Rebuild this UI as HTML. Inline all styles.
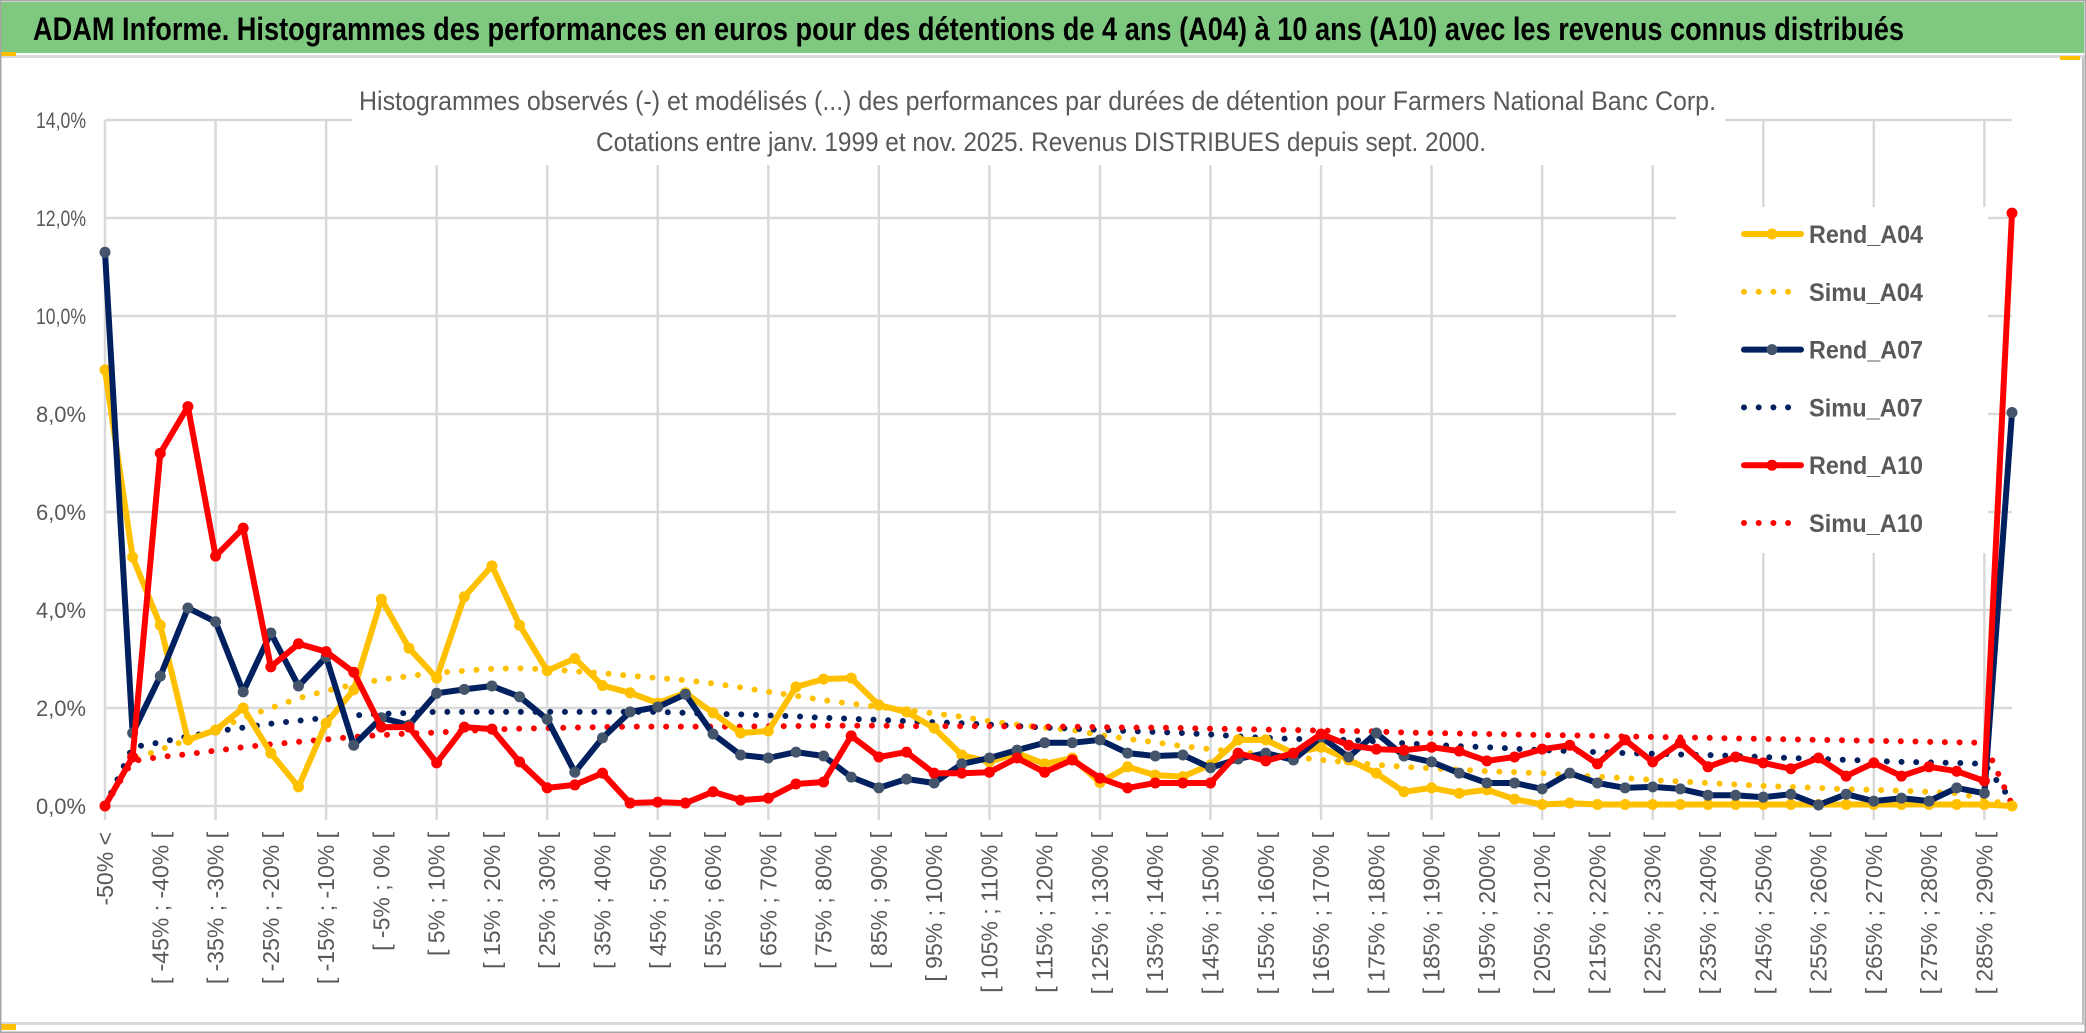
<!DOCTYPE html>
<html><head><meta charset="utf-8"><style>
html,body{margin:0;padding:0;background:#fff;}
svg{display:block;}
text{font-family:"Liberation Sans",sans-serif;}
</style></head><body>
<svg id="chart" width="2086" height="1033" viewBox="0 0 2086 1033" xmlns="http://www.w3.org/2000/svg">
<rect x="0" y="0" width="2086" height="1033" fill="#fff"/>
<rect x="1" y="2" width="2083" height="51" fill="#7ec97f"/>
<text x="33" y="40" font-size="32" font-weight="bold" fill="#000" textLength="1871" lengthAdjust="spacingAndGlyphs">ADAM Informe. Histogrammes des performances en euros pour des détentions de 4 ans (A04) à 10 ans (A10) avec les revenus connus distribués</text>
<rect x="0" y="55" width="2086" height="3" fill="#d9d9d9"/>
<rect x="0" y="52" width="16" height="4" fill="#ffc000"/>
<rect x="2060" y="56" width="20" height="4" fill="#ffc000"/>
<rect x="0" y="1022" width="2086" height="3" fill="#d9d9d9"/>
<rect x="0" y="1024" width="16" height="6" fill="#ffc000"/>
<rect x="0.5" y="0.5" width="2085" height="1032" fill="none" stroke="#a6a6a6" stroke-width="2"/>
<rect x="2082" y="58" width="2" height="966" fill="#bfbfbf"/>
<g id="grid"></g>
<rect x="352" y="78" width="1373" height="87" fill="#fff"/>
<text x="359" y="110" font-size="27" fill="#595959" textLength="1357" lengthAdjust="spacingAndGlyphs">Histogrammes observés (-) et modélisés (...) des performances par durées de détention pour Farmers National Banc Corp.</text>
<text x="596" y="151" font-size="27" fill="#595959" textLength="890" lengthAdjust="spacingAndGlyphs">Cotations entre janv. 1999 et nov. 2025. Revenus DISTRIBUES depuis sept. 2000.</text>
<g id="yaxis"></g>
<g id="xaxis"></g>
<rect x="1676" y="207" width="312" height="346" fill="#fff"/>
<g id="series"></g>
<g id="legend"></g>
</svg>
<script>
const yTicks = [0, 2, 4, 6, 8, 10, 12, 14];
const yTickLabels = ["0,0%","2,0%","4,0%","6,0%","8,0%","10,0%","12,0%","14,0%"];
const rendA04 = [8.9,5.08,3.69,1.35,1.55,2.0,1.08,0.39,1.69,2.37,4.22,3.22,2.61,4.27,4.9,3.69,2.76,3.01,2.46,2.31,2.1,2.31,1.9,1.49,1.53,2.43,2.59,2.61,2.06,1.92,1.59,1.04,0.9,1.08,0.86,0.98,0.48,0.8,0.63,0.6,0.84,1.35,1.35,1.08,1.2,0.94,0.67,0.29,0.37,0.26,0.33,0.14,0.03,0.06,0.03,0.03,0.03,0.03,0.03,0.03,0.03,0.03,0.03,0.03,0.03,0.03,0.03,0.03,0.03,0.0];
const simuA04 = [0,0.95,1.15,1.35,1.55,1.8,2.0,2.2,2.35,2.48,2.58,2.65,2.72,2.76,2.8,2.81,2.79,2.75,2.71,2.66,2.61,2.57,2.5,2.42,2.33,2.25,2.16,2.09,2.02,1.96,1.89,1.82,1.73,1.66,1.6,1.55,1.45,1.37,1.3,1.22,1.16,1.1,1.05,1.0,0.94,0.89,0.84,0.8,0.77,0.74,0.71,0.69,0.67,0.63,0.6,0.57,0.53,0.5,0.47,0.44,0.41,0.39,0.37,0.34,0.33,0.31,0.29,0.26,0.15,0.0];
const rendA07 = [11.3,1.49,2.65,4.04,3.76,2.33,3.53,2.45,3.04,1.24,1.8,1.65,2.3,2.38,2.45,2.23,1.77,0.69,1.39,1.92,2.02,2.28,1.47,1.04,0.98,1.1,1.02,0.59,0.37,0.55,0.47,0.86,0.98,1.14,1.29,1.29,1.35,1.08,1.02,1.04,0.78,0.96,1.08,0.94,1.41,1.0,1.49,1.02,0.9,0.67,0.47,0.47,0.35,0.67,0.47,0.37,0.39,0.35,0.22,0.22,0.18,0.24,0.02,0.24,0.1,0.16,0.1,0.37,0.26,8.03];
const simuA07 = [0,1.2,1.3,1.42,1.52,1.6,1.68,1.74,1.8,1.85,1.88,1.9,1.92,1.92,1.92,1.92,1.92,1.92,1.92,1.92,1.92,1.9,1.88,1.87,1.85,1.83,1.8,1.78,1.76,1.73,1.71,1.69,1.66,1.63,1.6,1.58,1.55,1.53,1.51,1.49,1.46,1.42,1.39,1.37,1.36,1.35,1.32,1.28,1.25,1.22,1.2,1.17,1.14,1.12,1.1,1.08,1.07,1.05,1.04,1.02,1.0,0.98,0.96,0.94,0.92,0.9,0.89,0.88,0.86,0.1];
const rendA10 = [0,1.0,7.2,8.15,5.1,5.67,2.84,3.31,3.15,2.73,1.61,1.61,0.88,1.61,1.57,0.9,0.37,0.43,0.67,0.06,0.08,0.06,0.29,0.12,0.16,0.45,0.49,1.43,1.0,1.1,0.67,0.67,0.69,0.98,0.69,0.94,0.57,0.37,0.47,0.47,0.47,1.08,0.92,1.08,1.47,1.24,1.16,1.14,1.2,1.12,0.92,1.0,1.16,1.24,0.86,1.35,0.9,1.29,0.8,1.0,0.88,0.76,0.98,0.61,0.88,0.61,0.8,0.71,0.51,12.1];
const simuA10 = [0,0.92,1.0,1.06,1.13,1.2,1.26,1.31,1.36,1.41,1.45,1.48,1.5,1.53,1.56,1.58,1.59,1.6,1.61,1.62,1.62,1.62,1.62,1.62,1.63,1.63,1.64,1.64,1.64,1.63,1.63,1.63,1.63,1.62,1.62,1.62,1.61,1.6,1.6,1.59,1.58,1.57,1.56,1.55,1.54,1.53,1.52,1.5,1.49,1.48,1.47,1.46,1.45,1.44,1.43,1.42,1.41,1.4,1.39,1.38,1.37,1.36,1.35,1.34,1.33,1.32,1.31,1.3,1.29,0.03];
const seriesNames = ["Rend_A04","Simu_A04","Rend_A07","Simu_A07","Rend_A10","Simu_A10"];

const categories = ["-50% <"];
for (let lo = -50; lo < 295; lo += 5) categories.push("[ " + lo + "% ; " + (lo + 5) + "% [");

const NS = "http://www.w3.org/2000/svg";
const X0 = 105, X1 = 2012, Y0 = 806, YTOP = 120;
const xs = i => X0 + i * (X1 - X0) / (categories.length - 1);
const ys = v => Y0 - (v / 14) * (Y0 - YTOP);
function mk(tag, attrs, parent) { const e = document.createElementNS(NS, tag); for (const k in attrs) e.setAttribute(k, attrs[k]); parent.appendChild(e); return e; }

const grid = document.getElementById('grid');
yTicks.forEach(t => {
  const l = mk('line', {x1: X0, x2: X1, y1: ys(t), y2: ys(t), stroke: '#d9d9d9', 'stroke-width': 2.5}, grid);
  
  
});
categories.forEach((c, i) => {
  if (i % 4 !== 0) return;
  const l = mk('line', {x1: xs(i), x2: xs(i), y1: YTOP, y2: Y0 + 14, stroke: '#d9d9d9', 'stroke-width': 2.5}, grid);
  
  
});

const yaxis = document.getElementById('yaxis');
yTicks.forEach((t, k) => {
  const tx = mk('text', {x: 86, y: ys(t) + 8, 'font-size': 22, fill: '#595959', 'text-anchor': 'end', textLength: yTickLabels[k].length > 5 ? 58 : 50, lengthAdjust: 'spacingAndGlyphs'}, yaxis);
  tx.textContent = yTickLabels[k];
  
  
});

const xaxis = document.getElementById('xaxis');
categories.forEach((c, i) => {
  if (i % 2 !== 0) return;
  const x = xs(i) + 8, y = 832;
  const tx = mk('text', {x: x, y: y, 'font-size': 23, fill: '#595959', 'text-anchor': 'end', transform: `rotate(-90 ${x} ${y})`}, xaxis);
  tx.textContent = c;
  
  
});

const sg = document.getElementById('series');
const defs = [
  {d: simuA04, color: '#ffc000', dotted: true},
  {d: simuA07, color: '#002060', dotted: true},
  {d: simuA10, color: '#ff0000', dotted: true},
  {d: rendA04, color: '#ffc000', marker: '#ffc000'},
  {d: rendA07, color: '#002060', marker: '#44546a'},
  {d: rendA10, color: '#ff0000', marker: '#ff0000'}
];
const defNames = ["simu-a04-line","simu-a07-line","simu-a10-line","rend-a04-line","rend-a07-line","rend-a10-line"];
defs.forEach((s, si) => {
  const pts = s.d.map((v, i) => xs(i).toFixed(1) + ',' + ys(v).toFixed(1)).join(' ');
  const attrs = {points: pts, fill: 'none', stroke: s.color, 'stroke-width': 6, 'stroke-linejoin': 'round', 'stroke-linecap': 'round'};
  if (s.dotted) attrs['stroke-dasharray'] = '0 14.7';
  const pl = mk('polyline', attrs, sg);
  
  
  if (s.marker) s.d.forEach((v, i) => {
    const c = mk('circle', {cx: xs(i), cy: ys(v), r: 5.5, fill: s.marker}, sg);
    
    
  });
});

const lg = document.getElementById('legend');
const legCols = ['#ffc000','#ffc000','#002060','#002060','#ff0000','#ff0000'];
const legMk = ['#ffc000',null,'#44546a',null,'#ff0000',null];
seriesNames.forEach((n, k) => {
  const y = 234 + k * 57.8;
  const g = mk('g', {}, lg);
  
  
  const a = {x1: 1744, x2: 1801, y1: y, y2: y, stroke: legCols[k], 'stroke-width': 6, 'stroke-linecap': 'round'};
  if (!legMk[k]) a['stroke-dasharray'] = '0 14.7';
  mk('line', a, g);
  if (legMk[k]) mk('circle', {cx: 1772, cy: y, r: 5.5, fill: legMk[k]}, g);
  const t = mk('text', {x: 1809, y: y + 9, 'font-size': 25, 'font-weight': 'bold', fill: '#595959', textLength: 114, lengthAdjust: 'spacingAndGlyphs'}, g);
  t.textContent = n;
});
</script>
</body></html>
